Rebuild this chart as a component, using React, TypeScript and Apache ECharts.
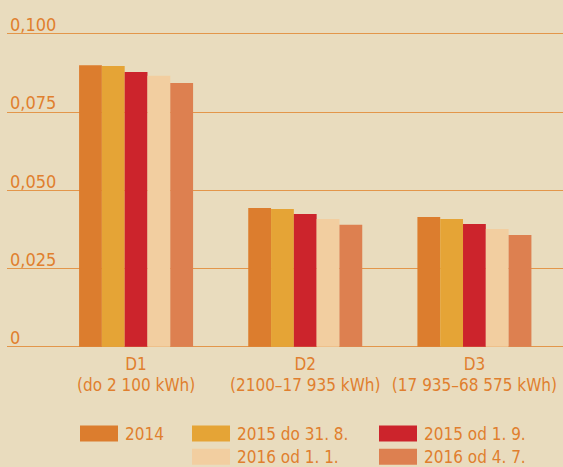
import React, { useEffect, useRef } from "react";
import * as echarts from "echarts";

const categories = ["D1\n(do 2 100 kWh)", "D2\n(2100–17 935 kWh)", "D3\n(17 935–68 575 kWh)"];
const seriesNames = ["2014", "2015 do 31. 8.", "2015 od 1. 9.", "2016 od 1. 1.", "2016 od 4. 7."];
const s2014 = [0.0899, 0.0443, 0.0414];
const s2015a = [0.0896, 0.044, 0.0408];
const s2015b = [0.0877, 0.0424, 0.0392];
const s2016a = [0.0865, 0.0408, 0.0376];
const s2016b = [0.0842, 0.0389, 0.0357];
const yTickLabels = ["0", "0,025", "0,050", "0,075", "0,100"];
const colors = ["#dc7d2e", "#e5a436", "#cc242c", "#f2cea0", "#dd8050"];

const FONT = '"DejaVu Sans Condensed", "Liberation Sans", sans-serif';
const TXT = "#e07f2e";
const FS = 17;

export default function App() {
  const ref = useRef<HTMLDivElement>(null);
  useEffect(() => {
    if (!ref.current) return;
    const chart = echarts.init(ref.current, undefined, { renderer: "svg" });
    const values = [s2014, s2015a, s2015b, s2016a, s2016b];
    const legendPos = [
      [80, 425],
      [192, 425],
      [379, 425],
      [192, 448.3],
      [379, 448.3],
    ];
    chart.setOption({
      animation: false,
      backgroundColor: "#e9dcbe",
      textStyle: { fontFamily: FONT },
      grid: [
        { left: 7, right: 0, top: 33.5, bottom: 120.3, outerBoundsMode: "none", containLabel: false },
        { left: 51.5, right: 4, top: 33.5, bottom: 120.3, outerBoundsMode: "none", containLabel: false },
      ],
      xAxis: [
        { gridIndex: 0, type: "value", show: false, min: 0, max: 1 },
        {
          gridIndex: 1,
          type: "category",
          data: categories,
          axisLine: { show: false },
          axisTick: { show: false },
          axisLabel: { interval: 0, color: TXT, fontFamily: FONT, fontSize: FS, lineHeight: 21, margin: 7 },
        },
      ],
      yAxis: [
        {
          gridIndex: 0,
          type: "value",
          min: 0,
          max: 0.1,
          interval: 0.025,
          axisLine: { show: false },
          axisTick: { show: false },
          splitLine: { lineStyle: { color: "#e3964a", width: 1 } },
          axisLabel: {
            inside: true,
            margin: 3,
            verticalAlign: "bottom",
            lineHeight: 18,
            color: TXT,
            fontFamily: FONT,
            fontSize: FS + 1,
            formatter: (v: number) => yTickLabels[Math.round(v / 0.025)],
          },
        },
        { gridIndex: 1, type: "value", min: 0, max: 0.1, show: false },
      ],
      legend: seriesNames.map((name, i) => ({
        left: legendPos[i][0],
        top: legendPos[i][1],
        data: [name],
        itemWidth: 38,
        itemHeight: 16,
        icon: "rect",
        padding: 0,
        selectedMode: false,
        textStyle: { color: TXT, fontFamily: FONT, fontSize: FS, lineHeight: 16, padding: [0, 0, 0, 2] },
      })),
      series: seriesNames.map((name, i) => ({
        name,
        type: "bar",
        xAxisIndex: 1,
        yAxisIndex: 1,
        data: values[i],
        barWidth: 22.8,
        barGap: "0%",
        itemStyle: { color: colors[i] },
      })),
    });
    return () => chart.dispose();
  }, []);
  return <div ref={ref} style={{ position: "fixed", left: 0, top: 0, width: 563, height: 467 }} />;
}
